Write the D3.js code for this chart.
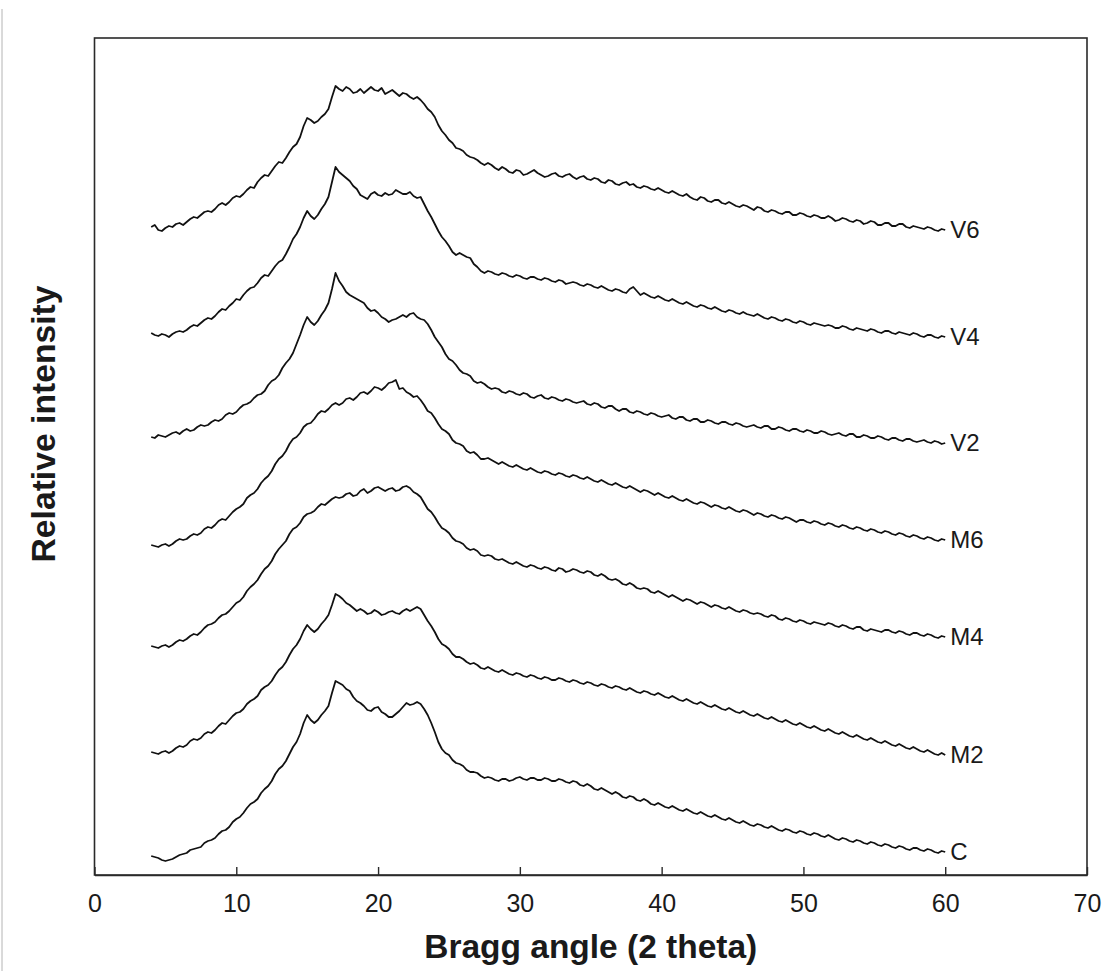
<!DOCTYPE html>
<html>
<head>
<meta charset="utf-8">
<script src="https://cdn.jsdelivr.net/npm/d3@7"></script>
<style>
  html, body { margin: 0; padding: 0; background: #fff; }
  svg { display: block; }
  text { font-family: "Liberation Sans", Arial, sans-serif; fill: #1a1a1a; }
</style>
</head>
<body>
<svg id="chart" width="1108" height="971"></svg>
<script>
// ---- data ----
const thetaStart = 4, thetaStep = 0.25; // 2-theta sampling (degrees), 4 .. 60
const seriesNames = ["V6", "V4", "V2", "M6", "M4", "M2", "C"];
const xTicks = [0, 10, 20, 30, 40, 50, 60, 70];
const xTitle = "Bragg angle (2 theta)";
const yTitle = "Relative intensity";

// stacked relative intensity (arbitrary units), one value per 0.25 degree
const V6 = [648,650,645,644,647,649,648,651,652,650,653,656,658,657,660,663,664,663,666,670,672,670,673,677,
  679,678,681,685,688,687,693,697,700,699,704,709,713,712,717,723,728,731,738,749,757,755,752,754,
  758,761,766,778,789,786,784,788,786,782,783,786,782,785,788,785,784,787,781,783,785,782,779,782,
  781,778,776,778,775,771,766,763,758,750,744,740,735,732,727,726,724,720,718,717,715,712,710,712,
  710,707,705,708,706,703,702,705,704,700,701,703,705,702,700,698,699,701,702,699,698,700,701,698,
  696,698,699,696,695,697,696,693,692,695,694,691,690,692,693,690,691,688,687,689,688,686,685,687,
  685,683,682,684,682,680,679,681,678,676,675,678,677,674,673,675,675,672,671,673,671,669,668,670,
  669,667,665,668,667,664,663,665,664,662,661,663,663,660,660,662,661,659,658,660,659,657,657,659,
  657,654,655,657,656,654,653,655,654,651,652,654,653,650,650,652,652,649,649,651,651,648,647,649,
  648,647,646,648,647,645,644,646,645];
const V4 = [542,540,539,541,540,538,541,543,544,543,545,548,550,549,552,555,557,556,559,563,566,565,569,572,
  576,575,580,584,587,588,592,597,600,599,604,609,613,615,621,628,636,641,648,657,664,659,656,660,
  666,671,678,693,708,703,700,697,694,689,686,680,678,676,681,683,680,679,682,680,681,685,683,681,
  681,683,679,677,678,671,664,658,651,644,638,634,629,623,620,622,620,618,617,611,608,604,602,604,
  603,601,600,602,601,599,598,600,599,597,596,598,598,596,595,597,596,594,593,595,594,591,592,593,
  592,590,589,591,590,588,587,589,587,585,584,586,585,583,582,586,588,584,580,582,580,578,577,579,
  577,575,574,576,574,572,571,573,571,569,568,570,569,567,566,568,566,564,563,565,564,562,561,563,
  561,560,559,561,559,557,556,558,557,555,554,556,555,553,552,554,553,551,550,552,551,550,549,550,
  549,547,547,549,548,546,545,547,546,545,544,546,545,543,542,544,544,542,541,543,542,541,540,542,
  541,539,538,540,540,538,537,539,538];
const V2 = [438,437,440,439,438,440,442,443,441,444,446,444,445,448,450,449,450,453,455,454,456,460,462,461,
  463,467,470,471,473,477,480,481,484,490,494,496,500,507,512,516,522,531,540,550,558,553,550,554,
  560,565,572,586,602,594,589,583,580,578,576,574,572,567,564,565,562,558,556,553,555,556,558,560,
  558,561,562,558,556,555,551,545,538,533,528,521,516,514,510,505,502,501,499,494,492,493,491,488,
  486,487,486,483,482,484,483,481,480,482,481,478,477,479,480,477,476,478,477,475,474,476,475,473,
  472,473,474,471,470,472,471,468,467,469,469,466,464,466,466,463,462,464,463,461,460,462,461,459,
  458,459,460,457,456,458,458,455,454,456,456,453,453,455,454,452,451,453,453,451,450,452,451,449,
  448,449,450,448,447,449,449,446,446,448,447,445,444,446,446,444,443,445,444,442,442,444,443,441,
  440,441,442,440,439,441,441,438,438,440,439,437,437,439,438,436,435,437,437,435,434,436,436,434,
  433,434,435,433,432,434,433,431,432];
const M6 = [330,329,328,330,331,329,331,334,336,335,336,339,341,340,342,346,348,347,350,354,356,355,359,363,
  366,368,371,377,380,382,386,392,396,399,404,411,416,419,424,431,436,438,442,448,451,452,456,461,
  464,463,466,470,472,470,472,476,477,475,478,482,483,481,484,488,487,485,488,492,493,495,486,487,
  483,481,478,479,475,470,464,462,457,451,446,444,441,435,432,431,429,424,422,423,420,416,416,417,
  415,413,411,413,411,409,408,410,408,406,405,407,405,403,402,404,403,401,400,402,401,399,398,400,
  399,397,396,398,396,394,393,395,393,391,390,392,390,388,387,389,387,385,383,385,384,382,380,382,
  380,378,377,379,377,375,374,376,374,372,371,373,372,370,368,370,369,367,366,368,366,364,363,365,
  364,362,360,362,361,359,358,360,359,357,356,358,357,355,353,355,355,353,352,354,353,351,350,352,
  351,349,348,350,349,347,346,348,347,345,344,346,345,343,342,344,343,341,340,342,341,339,338,340,
  339,337,336,338,337,335,334,336,335];
const M4 = [229,228,227,229,230,228,230,233,235,234,236,239,241,240,243,247,250,251,253,257,260,261,264,268,
  272,274,278,284,288,291,295,301,306,309,314,321,326,330,334,341,346,348,352,358,361,362,364,368,
  371,370,373,376,378,377,378,381,382,379,380,384,386,382,384,387,388,386,384,386,387,384,385,388,
  389,387,383,381,378,372,366,363,358,352,347,345,342,337,334,333,331,327,325,326,324,320,319,320,
  319,316,315,316,314,312,311,313,311,309,308,310,309,307,306,308,307,305,304,307,306,303,304,306,
  305,303,302,304,303,300,299,301,299,296,295,296,294,291,290,292,290,287,286,287,286,283,282,284,
  282,280,278,280,278,276,274,276,275,273,271,273,272,270,268,270,269,267,266,268,266,264,263,265,
  264,262,261,262,261,259,258,260,259,256,255,257,256,254,253,255,254,252,251,253,252,251,250,252,
  251,249,248,250,249,247,246,248,248,245,244,246,245,244,243,245,245,243,242,244,243,241,240,242,
  242,240,239,241,240,238,237,239,238];
const M2 = [123,122,121,123,124,122,124,127,129,128,130,134,136,135,137,141,143,142,145,149,152,151,155,159,
  162,163,166,171,174,176,179,185,188,190,194,200,205,208,213,220,226,230,236,244,250,246,243,246,
  251,255,260,270,281,279,276,272,270,267,264,266,264,261,262,265,263,260,261,263,264,262,261,264,
  266,264,266,268,266,260,254,249,243,236,231,229,226,221,218,218,216,213,211,212,210,207,206,208,
  206,204,203,205,203,201,200,202,201,199,198,200,199,197,196,198,197,195,195,197,196,194,193,195,
  194,192,191,193,192,190,189,191,190,188,187,189,188,186,185,187,185,183,182,184,183,181,180,182,
  180,178,177,179,177,175,174,176,174,172,171,173,171,169,168,170,168,166,165,167,165,163,162,164,
  162,160,159,161,159,157,156,158,156,154,153,155,153,151,150,152,150,148,147,149,147,145,144,146,
  144,142,141,143,141,139,138,140,138,136,135,137,135,133,132,134,132,130,129,131,129,127,126,128,
  126,124,123,125,123,121,120,122,120];
const C = [19,18,17,15,14,15,16,18,20,21,22,25,26,27,28,32,34,35,37,41,44,45,48,53,
  56,58,62,67,71,73,76,82,86,89,94,101,106,109,114,121,128,133,141,152,160,155,152,155,
  160,164,169,182,194,192,190,186,184,178,174,172,169,165,164,167,168,163,161,158,158,161,164,168,
  172,170,171,173,171,166,160,152,143,133,126,122,120,115,112,111,109,105,103,103,102,99,97,98,
  97,95,94,96,96,94,95,97,98,96,95,97,97,95,95,97,96,94,94,96,95,93,92,94,
  93,90,89,91,89,86,85,87,85,83,81,83,81,78,77,79,78,75,74,76,74,71,70,72,
  70,68,67,69,67,65,64,66,64,62,61,63,61,59,58,60,58,56,55,57,55,53,52,54,
  52,50,49,51,50,48,47,49,47,45,44,46,45,43,42,44,43,41,40,42,41,39,38,40,
  38,36,35,37,36,34,33,35,34,32,31,33,32,30,29,31,30,28,27,29,28,26,25,27,
  27,25,24,26,25,23,22,24,23];
const seriesValues = [V6, V4, V2, M6, M4, M2, C];

// ---- chart ----
const svg = d3.select("#chart");
const plot = { left: 94.5, right: 1087, top: 38, bottom: 875 };

const x = d3.scaleLinear().domain([0, 70]).range([plot.left, plot.right]);
const y = d3.scaleLinear().domain([0, 837]).range([plot.bottom, plot.top]);

// thin gray page rule at far left
svg.append("line")
  .attr("x1", 2).attr("x2", 2).attr("y1", 9).attr("y2", 971)
  .attr("stroke", "#b4b4b4").attr("stroke-width", 1);

// frame
svg.append("rect")
  .attr("x", plot.left).attr("y", plot.top)
  .attr("width", plot.right - plot.left).attr("height", plot.bottom - plot.top)
  .attr("fill", "none").attr("stroke", "#2a2a2a").attr("stroke-width", 1.6);

// x axis
const xAxis = d3.axisBottom(x)
  .tickValues(xTicks)
  .tickFormat(d3.format("d"))
  .tickSizeInner(-8).tickSizeOuter(0).tickPadding(19);
const gx = svg.append("g").attr("transform", `translate(0,${plot.bottom})`).call(xAxis);
gx.select(".domain").attr("stroke", "#2a2a2a").attr("stroke-width", 1.6);
gx.selectAll(".tick line").attr("stroke", "#2a2a2a").attr("stroke-width", 1.4);
gx.selectAll(".tick text")
  .style("font-family", '"Liberation Sans", Arial, sans-serif')
  .attr("font-size", 25).attr("fill", "#1a1a1a");

// titles
svg.append("text")
  .attr("x", (plot.left + plot.right) / 2).attr("y", 958)
  .attr("text-anchor", "middle")
  .attr("font-size", 33).attr("font-weight", "bold")
  .attr("textLength", 333).attr("lengthAdjust", "spacingAndGlyphs")
  .text(xTitle);

svg.append("text")
  .attr("transform", "translate(55,424) rotate(-90)")
  .attr("text-anchor", "middle")
  .attr("font-size", 33).attr("font-weight", "bold")
  .attr("textLength", 277).attr("lengthAdjust", "spacingAndGlyphs")
  .text(yTitle);

// curves
const line = d3.line()
  .x((d, i) => x(thetaStart + i * thetaStep))
  .y(d => y(d));

svg.append("g").selectAll("path")
  .data(seriesValues)
  .join("path")
  .attr("d", line)
  .attr("fill", "none")
  .attr("stroke", "#111")
  .attr("stroke-width", 1.8)
  .attr("stroke-linejoin", "round");

// series labels
svg.append("g").selectAll("text")
  .data(seriesNames)
  .join("text")
  .attr("x", (d, i) => x(thetaStart + (seriesValues[i].length - 1) * thetaStep) + 5)
  .attr("y", (d, i) => y(seriesValues[i][seriesValues[i].length - 1]))
  .attr("dy", "0.35em")
  .attr("font-size", 24)
  .text(d => d);
</script>
</body>
</html>
